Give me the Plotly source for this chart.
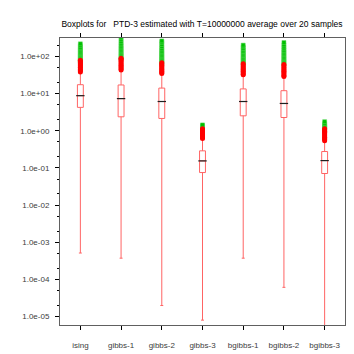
import plotly.graph_objects as go

# box statistics
categories = ["ising", "gibbs-1", "gibbs-2", "gibbs-3", "bgibbs-1", "bgibbs-2", "bgibbs-3"]
q1 = [4.27, 2.38, 2.15, 0.0753, 2.53, 2.28, 0.071]
median = [8.81, 7.35, 6.14, 0.155, 6.14, 5.44, 0.158]
q3 = [17.4, 17.1, 14.1, 0.289, 13.4, 12.0, 0.277]
lower_whisker = [5.15e-4, 3.74e-4, 1.99e-5, 8.05e-6, 3.74e-4, 6.14e-5, 3.0e-6]
upper_whisker = [37.0, 42.0, 34.0, 0.61, 31.0, 28.0, 0.54]

# outlier points above the upper whisker (red) and the green points on top of them
red_points = [
    [38, 41, 44, 47, 51, 55, 59, 63, 68, 73, 79],
    [43, 46, 50, 54, 58, 63, 68, 74, 80, 86, 90],
    [35, 37, 40, 43, 46, 50, 54, 58, 63, 68],
    [0.62, 0.66, 0.71, 0.76, 0.81, 0.87, 0.93, 1.0, 1.07, 1.14],
    [32, 34, 37, 40, 43, 46, 50, 54, 59, 64],
    [29, 31, 34, 37, 40, 43, 47, 51, 56, 61],
    [0.54, 0.58, 0.62, 0.67, 0.72, 0.78, 0.84, 0.91, 0.98, 1.05, 1.13],
]
green_points = [
    [72, 76, 81, 86, 92, 98, 105, 112, 120, 129, 139, 150, 162, 176, 195, 219],
    [88, 94, 101, 108, 116, 125, 135, 146, 158, 172, 188, 206, 228, 255, 290, 330, 380],
    [66, 70, 75, 80, 86, 92, 99, 107, 116, 126, 137, 150, 166, 185, 210, 240, 262],
    [1.16, 1.2, 1.25, 1.3, 1.36, 1.44],
    [65, 69, 74, 79, 85, 91, 98, 106, 115, 125, 136, 149, 164, 182, 202],
    [62, 66, 71, 76, 82, 88, 95, 103, 112, 122, 133, 146, 161, 180, 205, 237],
    [1.1, 1.15, 1.21, 1.28, 1.36, 1.45, 1.58, 1.76],
]

y_tickvals = [1e-5, 1e-4, 1e-3, 1e-2, 1e-1, 1e0, 1e1, 1e2]
y_ticktext = ["1.0e-05", "1.0e-04", "1.0e-03", "1.0e-02", "1.0e-01", "1.0e+00", "1.0e+01", "1.0e+02"]
y_minor = [m * 10.0 ** e for e in range(-6, 3) for m in (2, 5)]

fig = go.Figure()

fig.add_trace(go.Box(
    x=categories, q1=q1, median=median, q3=q3,
    lowerfence=lower_whisker, upperfence=upper_whisker,
    width=0.145, whiskerwidth=0.5,
    line=dict(color="#ff6464", width=1),
    fillcolor="rgba(255,255,255,0)",
    boxpoints=False, showlegend=False,
))

# black median bars
fig.add_trace(go.Scatter(
    x=categories, y=median, mode="markers",
    marker=dict(symbol="line-ew", size=6, line=dict(color="#202020", width=1.2)),
    showlegend=False,
))

gx, gy, rx, ry = [], [], [], []
for cat, g, r in zip(categories, green_points, red_points):
    gx += [cat] * len(g)
    gy += g
    rx += [cat] * len(r)
    ry += r

fig.add_trace(go.Scatter(
    x=gx, y=gy, mode="markers",
    marker=dict(symbol="square", size=4, color="#00c000",
                line=dict(color="#60d860", width=0.5)),
    showlegend=False,
))
fig.add_trace(go.Scatter(
    x=rx, y=ry, mode="markers",
    marker=dict(symbol="circle", size=5, color="#ff0000", line=dict(width=0)),
    showlegend=False,
))

axis_font = dict(family="Liberation Sans, Arial, sans-serif", size=8, color="#3c3c3c")

fig.update_layout(
    width=354, height=354,
    margin=dict(l=49, r=15, t=30, b=29),
    paper_bgcolor="white", plot_bgcolor="white",
    font=axis_font,
    title=dict(
        text="Boxplots for \u00a0\u00a0PTD-3 estimated with T=10000000 average over 20 samples",
        x=0.548, xanchor="center", y=0.955, yanchor="middle",
        font=dict(family="Liberation Sans, Arial, sans-serif", size=8.5, color="#000000"),
    ),
    showlegend=False,
)
fig.update_xaxes(
    type="category", range=[-0.5, 6.5],
    showline=True, linecolor="#606060", linewidth=1, mirror="ticks",
    ticks="outside", ticklen=4, tickcolor="#000000",
    showgrid=False, zeroline=False,
    tickfont=axis_font, ticklabelstandoff=8,
)
fig.update_yaxes(
    type="log", range=[-5.225, 2.497],
    tickmode="array", tickvals=y_tickvals, ticktext=y_ticktext,
    showline=True, linecolor="#606060", linewidth=1, mirror="ticks",
    ticks="outside", ticklen=4, tickcolor="#000000",
    minor=dict(tickmode="array", tickvals=y_minor, ticks="outside", ticklen=2,
               tickcolor="#000000", showgrid=False),
    showgrid=False, zeroline=False,
    tickfont=axis_font, ticklabelstandoff=4,
)

fig.write_html("out.html")
